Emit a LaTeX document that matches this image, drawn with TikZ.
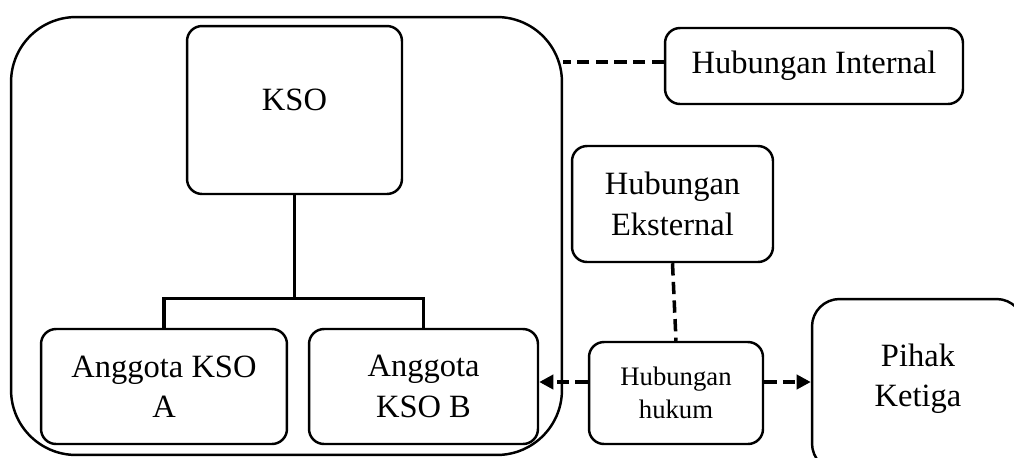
\documentclass[tikz,border=0pt]{standalone}
\usepackage{fontspec}
\setmainfont{Liberation Serif}
\usetikzlibrary{arrows.meta}
\begin{document}
\begin{tikzpicture}[x=0.02cm,y=-0.02cm,
    box/.style={draw,line width=1.4pt,rounded corners=0.3cm,align=center,font=\fontsize{18.5}{23}\selectfont},
    tree/.style={line width=1.8pt},
    rel/.style={line width=2pt,dash pattern=on 7pt off 3.6pt},
    relarrow/.style={rel,-{Triangle[length=8pt,width=8pt]}}]
        \def\xmax{1014} \def\ymax{457}
        \useasboundingbox (0,0) rectangle (\xmax,\ymax);
        \clip (0,0) rectangle (\xmax,\ymax);

        \node[draw,line width=1.4pt,rounded corners=1.3cm,minimum width=11.02cm,minimum height=8.76cm] (kerjasama) at (286.5,236) {};

        \node[box,minimum width=4.3cm,minimum height=3.36cm,text depth=0.4cm] (kso) at (294.5,110) {KSO};
        \node[box,minimum width=4.92cm,minimum height=2.3cm] (anggotaA) at (164,386.5) {Anggota KSO\\A};
        \node[box,minimum width=4.58cm,minimum height=2.3cm] (anggotaB) at (423.5,386.5) {Anggota\\KSO B};

        \node[box,minimum width=5.96cm,minimum height=1.52cm] (internal) at (814,66) {Hubungan Internal};
        \node[box,minimum width=4.02cm,minimum height=2.32cm] (eksternal) at (672.5,204) {Hubungan\\Eksternal};
        \node[box,minimum width=3.48cm,minimum height=2.04cm,font=\fontsize{15.2}{18.5}\selectfont] (hukum) at (676,393) {Hubungan\\hukum};
        \node[box,rounded corners=0.55cm,minimum width=4.24cm,minimum height=3.44cm,text depth=0.4cm] (pihak) at (918,385) {Pihak\\Ketiga};

        \draw[tree] (kso.south) -- ++(0,103) coordinate (cabang);
        \draw[tree] (anggotaA.north) |- (cabang) -| (anggotaB.north);

        \draw[rel] (internal.west |- 0,62) -- (kerjasama.east |- 0,62);
        \draw[rel] (eksternal.south) -- (hukum.north);
        \draw[relarrow] (hukum.west |- 0,382) -- (anggotaB.east |- 0,382);
        \draw[relarrow] (hukum.east |- 0,382) -- (pihak.west |- 0,382);
      \end{tikzpicture}
\end{document}
